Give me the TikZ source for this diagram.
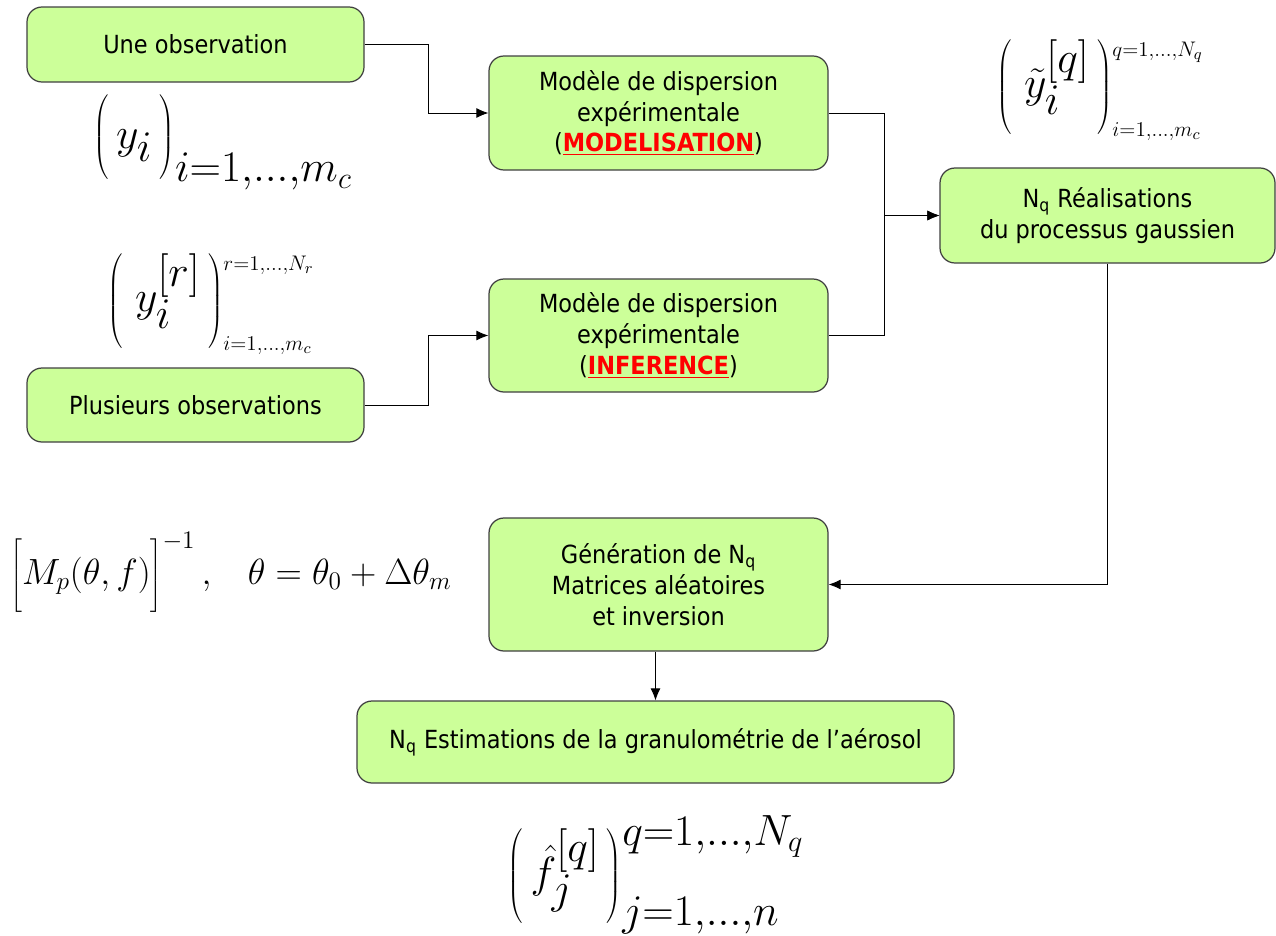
\documentclass[tikz,border=0pt]{standalone}
\usepackage{fontspec}
\setmainfont{DejaVu Sans}[FakeStretch=0.9]
\usetikzlibrary{arrows.meta}
\definecolor{boxgreen}{HTML}{CCFF99}
\definecolor{boxline}{HTML}{404040}
\newcommand{\redword}[1]{\textcolor{red}{\underline{\textbf{#1}}}}
\newcommand{\limtxt}[1]{\mbox{\fontsize{18}{20}\selectfont$\scriptstyle #1$}}
\newcommand{\tallstrut}[2]{\vrule height #1 depth #2 width 0pt}
\begin{document}
\begin{tikzpicture}[
  box/.style={draw=boxline, line width=0.7pt, fill=boxgreen, rounded corners=0.3cm, align=center,
    font=\fontsize{14.2}{17.6}\selectfont, inner sep=0pt},
  formula/.style={font=\fontsize{36}{40}\selectfont, inner sep=0pt},
  link/.style={draw=black, line width=0.5pt, -{Latex[length=2.4mm,width=2mm]}}]

\useasboundingbox (0,0) rectangle (25.52,-18.7);

% Nodes

\node[box, minimum width=6.74cm, minimum height=1.5cm] (obs1) at (3.91,-0.89) {Une observation};
\node[box, minimum width=6.74cm, minimum height=1.48cm] (obs2) at (3.91,-8.1) {Plusieurs observations};
\node[box, minimum width=6.78cm, minimum height=2.28cm] (mod) at (13.17,-2.26)
  {Modèle de dispersion\\expérimentale\\(\redword{MODELISATION})};
\node[box, minimum width=6.78cm, minimum height=2.26cm] (inf) at (13.17,-6.71)
  {Modèle de dispersion\\expérimentale\\(\redword{INFERENCE})};
\node[box, minimum width=6.7cm, minimum height=1.9cm] (real) at (22.15,-4.31)
  {N\textsubscript{q} Réalisations\\du processus gaussien};
\node[box, minimum width=6.78cm, minimum height=2.66cm] (gen) at (13.17,-11.69)
  {Génération de N\textsubscript{q}\\Matrices aléatoires\\et inversion};
\node[box, minimum width=11.94cm, minimum height=1.64cm] (est) at (13.11,-14.84)
  {N\textsubscript{q} Estimations de la granulométrie de l’aérosol};

% Edges
\draw[link] (obs1.east) -- ++(1.28,0) |- (mod.west);
\draw[link] (obs2.east) -- ++(1.28,0) |- (inf.west);
\draw[link] (mod.east) -- ++(1.12,0) |- (real.west);
\draw[link] (inf.east) -- ++(1.12,0) |- (real.west);
\draw[link] (real.south) |- (gen.east);
\draw[link] (gen.south -| est.north) -- (est.north);

% Labels
\node[formula] (yobs) at (4.46,-2.84)
  {$\left(\tallstrut{31pt}{14pt}\,y_i\,\right)_{i=1,\ldots,m_c}$};
\node[formula, font=\fontsize{40}{44}\selectfont] (yrep) at (4.22,-6.08)
  {$\left(\;y_i^{[r]}\,\right)^{\limtxt{r=1,\ldots,N_r}}_{\limtxt{i=1,\ldots,m_c}}$};
\node[formula, font=\fontsize{38}{42}\selectfont] (ytil) at (22.0,-1.8)
  {$\left(\;\tilde{y}_i^{[q]}\,\right)^{\limtxt{q=1,\ldots,N_q}}_{\limtxt{i=1,\ldots,m_c}}$};
\node[formula, font=\fontsize{21.5}{26}\selectfont, anchor=west] (mat) at (0.2,-11.44)
  {$\left[\tallstrut{26pt}{11pt}M_p(\theta,f)\right]^{-1},\;\;\; \theta=\theta_0+\Delta\theta_m$};
\node[formula] (fhat) at (13.12,-17.5)
  {$\left(\,\hat{f}_j^{[q]}\,\right)^{q=1,\ldots,N_q}_{j=1,\ldots,n}$};

\end{tikzpicture}
\end{document}
